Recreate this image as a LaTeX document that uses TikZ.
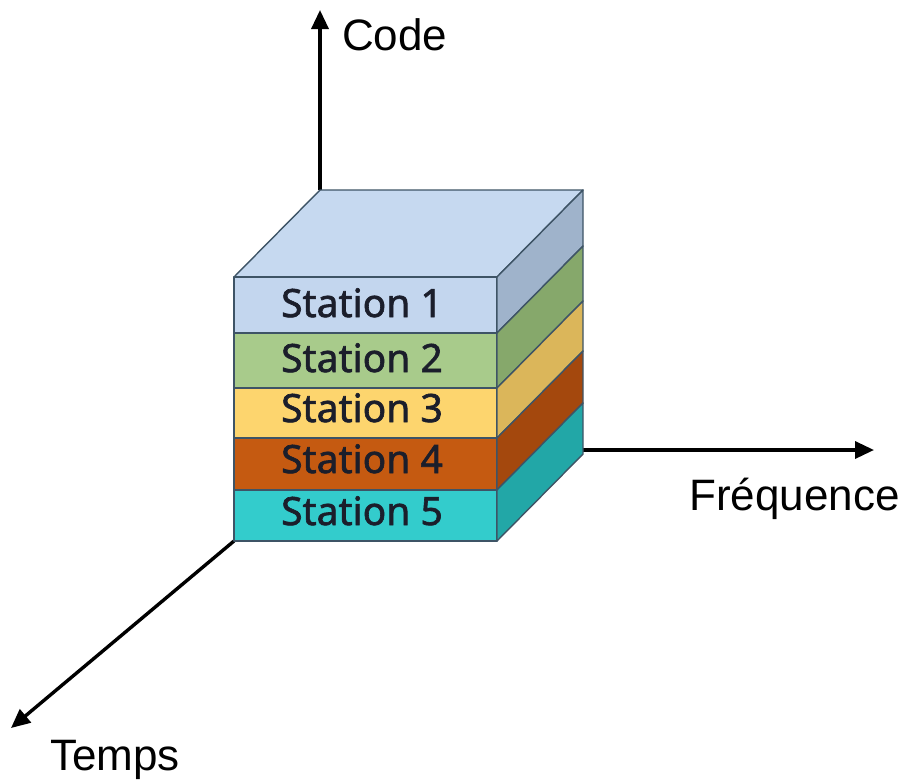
\documentclass[tikz,border=0pt]{standalone}
\usepackage{fontspec}
\setmainfont{Liberation Sans}
\newfontfamily\stationfont[FakeBold=1.6]{Noto Sans}
\usetikzlibrary{arrows.meta}

\definecolor{edgecol}{HTML}{3E5466}
\definecolor{txtcol}{HTML}{1B1E2B}
\definecolor{topface}{HTML}{C6D9F0}
\definecolor{frontA}{HTML}{C3D6EE}\definecolor{sideA}{HTML}{9FB3CB}
\definecolor{frontB}{HTML}{A8CB8B}\definecolor{sideB}{HTML}{86A86B}
\definecolor{frontC}{HTML}{FDD56E}\definecolor{sideC}{HTML}{DBB65A}
\definecolor{frontD}{HTML}{C55A11}\definecolor{sideD}{HTML}{A4480D}
\definecolor{frontE}{HTML}{33CCCC}\definecolor{sideE}{HTML}{22A7A7}

\tikzset{
  face/.style={draw=edgecol, line width=1.4pt, line join=round},
  axis/.style={line width=3.4pt, -{Triangle[length=19pt,width=17pt]}},
  axislabel/.style={font=\fontsize{44}{50}\selectfont, text=black, inner sep=0pt},
  stationlabel/.style={font=\stationfont\fontsize{39}{44}\selectfont, text=txtcol, inner sep=0pt, anchor=base},
}

\begin{document}
\begin{tikzpicture}[x=1pt,y=-1pt]
\useasboundingbox (0,0) rectangle (912,780);

% cube geometry: front face x 234..497, back offset (86,-87)
\def\xl{234}\def\xr{497}\def\dx{86}\def\dy{-87}

% axes (drawn first so the cube hides their roots)
\coordinate (codeRoot) at (320,190);
\coordinate (codeTip) at (320,10);
\coordinate (freqRoot) at (583,450);
\coordinate (freqTip) at (874,450);
\coordinate (timeRoot) at (234,541);
\coordinate (timeTip) at (11,728);
\draw[axis] (codeRoot) -- (codeTip);
\draw[axis] (freqRoot) -- (freqTip);
\draw[axis] (timeRoot) -- (timeTip);

% top face
\draw[face, fill=topface] (\xl,277) -- (\xr,277) -- (\xr+\dx,277+\dy) -- (\xl+\dx,277+\dy) -- cycle;

% layers: front band and side band
\foreach \ya/\yb/\fc/\sc in {277/333/frontA/sideA, 333/388/frontB/sideB, 388/438/frontC/sideC, 438/490/frontD/sideD, 490/541/frontE/sideE}{
  \draw[face, fill=\fc] (\xl,\ya) rectangle (\xr,\yb);
  \draw[face, fill=\sc] (\xr,\ya) -- (\xr+\dx,\ya+\dy) -- (\xr+\dx,\yb+\dy) -- (\xr,\yb) -- cycle;
}

% station labels
\node[stationlabel] (s1) at (362,317) {Station 1};
\node[stationlabel] (s2) at (362,372) {Station 2};
\node[stationlabel] (s3) at (362,422) {Station 3};
\node[stationlabel] (s4) at (362,473) {Station 4};
\node[stationlabel] (s5) at (362,525) {Station 5};

% axis labels
\node[axislabel, anchor=base west] (code) at (342,50) {Code};
\node[axislabel, anchor=base west] (freq) at (689,510) {Fréquence};
\node[axislabel, anchor=base west] (time) at (50,770) {Temps};
\end{tikzpicture}
\end{document}
